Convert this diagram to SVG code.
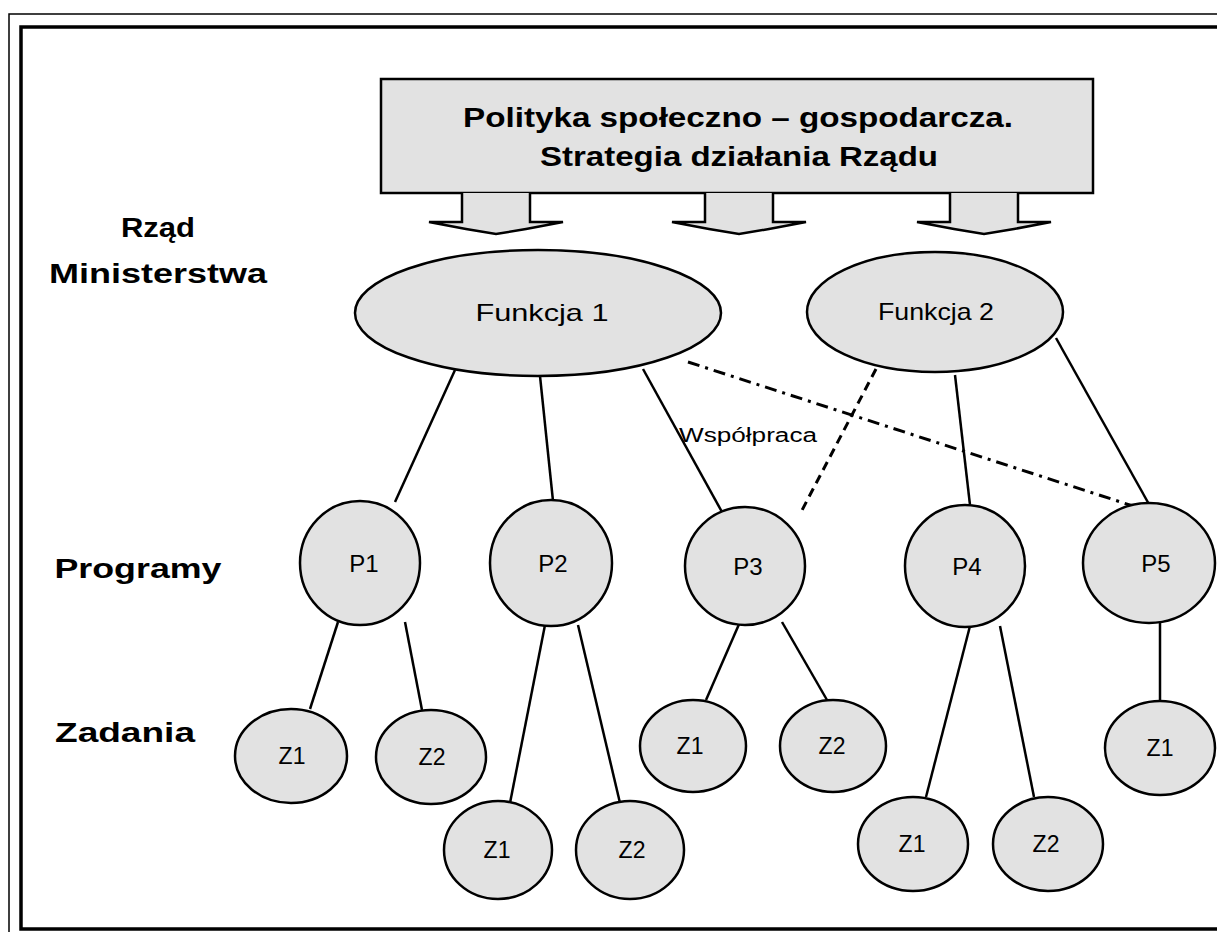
<svg xmlns="http://www.w3.org/2000/svg" width="1217" height="932" viewBox="0 0 1217 932">
  <style>
    .shape { fill: #e2e2e2; stroke: #000; stroke-width: 2.5; }
    .link { fill: none; stroke: #000; stroke-width: 2.5; }
    .dashed { fill: none; stroke: #000; stroke-width: 3; stroke-dasharray: 9 6; }
    .dashdot { fill: none; stroke: #000; stroke-width: 3; stroke-dasharray: 12 6 3 6; }
    .head { font-family: "Liberation Sans", Arial, sans-serif; font-weight: bold; font-size: 27px; fill: #000; text-anchor: middle; }
    .side { font-family: "Liberation Sans", Arial, sans-serif; font-weight: bold; font-size: 27px; fill: #000; text-anchor: middle; }
    .lbl { font-family: "Liberation Sans", Arial, sans-serif; font-size: 24px; fill: #000; text-anchor: middle; }
    .small { font-family: "Liberation Sans", Arial, sans-serif; font-size: 20px; fill: #000; text-anchor: middle; }
    .zl { font-family: "Liberation Sans", Arial, sans-serif; font-size: 23px; fill: #000; text-anchor: middle; }
  </style>
  <defs>
    <!-- block arrow pointing down, drawn about its own centre -->
    <path id="downArrow" d="M-34,0 V29 H-67 L-30,36 L0,41 L30,36 L67,29 H34 V0" />
  </defs>

  <rect x="0" y="0" width="1217" height="932" fill="#fff"/>

  <!-- page frame -->
  <path d="M9,932 V14 H1217" fill="none" stroke="#000" stroke-width="1.5"/>
  <path d="M1217,929 H21 V27 H1217" fill="none" stroke="#000" stroke-width="3.5"/>

  <!-- level labels -->
  <g id="levels">
    <text class="side" x="158" y="237" textLength="74" lengthAdjust="spacingAndGlyphs">Rząd</text>
    <text class="side" x="158" y="283" textLength="218" lengthAdjust="spacingAndGlyphs">Ministerstwa</text>
    <text class="side" x="138" y="578" textLength="167" lengthAdjust="spacingAndGlyphs">Programy</text>
    <text class="side" x="125" y="742" textLength="140" lengthAdjust="spacingAndGlyphs">Zadania</text>
  </g>

  <!-- connectors -->
  <g id="connectors">
    <line class="link" x1="455" y1="370" x2="395" y2="502"/>
    <line class="link" x1="540" y1="376" x2="553" y2="501"/>
    <line class="link" x1="643" y1="369" x2="722" y2="512"/>
    <line class="dashed" x1="876" y1="369" x2="800" y2="514"/>
    <line class="link" x1="955" y1="375" x2="970" y2="505"/>
    <line class="link" x1="1056" y1="338" x2="1150" y2="506"/>
    <line class="dashdot" x1="688" y1="362" x2="1133" y2="506"/>

    <line class="link" x1="338" y1="622" x2="310" y2="709"/>
    <line class="link" x1="405" y1="622" x2="422" y2="710"/>
    <line class="link" x1="545" y1="625" x2="510" y2="803"/>
    <line class="link" x1="578" y1="625" x2="620" y2="803"/>
    <line class="link" x1="740" y1="622" x2="706" y2="700"/>
    <line class="link" x1="782" y1="622" x2="827" y2="700"/>
    <line class="link" x1="970" y1="626" x2="926" y2="797"/>
    <line class="link" x1="1000" y1="626" x2="1034" y2="797"/>
    <line class="link" x1="1160" y1="622" x2="1160" y2="701"/>

    <text class="small" x="748" y="442" textLength="138" lengthAdjust="spacingAndGlyphs">Współpraca</text>
  </g>

  <!-- strategy box with its three arrows -->
  <g id="strategy">
    <rect class="shape" x="381" y="79" width="712" height="114"/>
    <text class="head" x="738" y="127" textLength="550" lengthAdjust="spacingAndGlyphs">Polityka społeczno – gospodarcza.</text>
    <text class="head" x="739" y="166" textLength="398" lengthAdjust="spacingAndGlyphs">Strategia działania Rządu</text>
    <use href="#downArrow" x="496" y="193" class="shape"/>
    <use href="#downArrow" x="739" y="193" class="shape"/>
    <use href="#downArrow" x="984" y="193" class="shape"/>
  </g>

  <g id="funkcja1">
    <ellipse class="shape" cx="538" cy="313" rx="183" ry="63"/>
    <text class="lbl" x="542" y="321" textLength="133" lengthAdjust="spacingAndGlyphs">Funkcja 1</text>
  </g>
  <g id="funkcja2">
    <ellipse class="shape" cx="935" cy="312" rx="128" ry="60"/>
    <text class="lbl" x="936" y="320" textLength="116" lengthAdjust="spacingAndGlyphs">Funkcja 2</text>
  </g>

  <g id="p1">
    <ellipse class="shape" cx="360" cy="563" rx="60" ry="62"/>
    <text class="lbl" x="364" y="572">P1</text>
  </g>
  <g id="p2">
    <ellipse class="shape" cx="551" cy="563" rx="61" ry="63"/>
    <text class="lbl" x="553" y="572">P2</text>
  </g>
  <g id="p3">
    <ellipse class="shape" cx="745" cy="566" rx="60" ry="59"/>
    <text class="lbl" x="748" y="575">P3</text>
  </g>
  <g id="p4">
    <ellipse class="shape" cx="965" cy="566" rx="60" ry="61"/>
    <text class="lbl" x="967" y="575">P4</text>
  </g>
  <g id="p5">
    <ellipse class="shape" cx="1149" cy="563" rx="66" ry="60"/>
    <text class="lbl" x="1156" y="572">P5</text>
  </g>

  <g id="p1-z1">
    <ellipse class="shape" cx="291" cy="756" rx="56" ry="47"/>
    <text class="zl" x="292" y="764">Z1</text>
  </g>
  <g id="p1-z2">
    <ellipse class="shape" cx="431" cy="757" rx="55" ry="47"/>
    <text class="zl" x="432" y="765">Z2</text>
  </g>
  <g id="p2-z1">
    <ellipse class="shape" cx="498" cy="850" rx="54" ry="49"/>
    <text class="zl" x="497" y="858">Z1</text>
  </g>
  <g id="p2-z2">
    <ellipse class="shape" cx="630" cy="850" rx="54" ry="49"/>
    <text class="zl" x="632" y="858">Z2</text>
  </g>
  <g id="p3-z1">
    <ellipse class="shape" cx="693" cy="746" rx="53" ry="46"/>
    <text class="zl" x="690" y="754">Z1</text>
  </g>
  <g id="p3-z2">
    <ellipse class="shape" cx="833" cy="746" rx="53" ry="46"/>
    <text class="zl" x="832" y="754">Z2</text>
  </g>
  <g id="p4-z1">
    <ellipse class="shape" cx="913" cy="844" rx="55" ry="47"/>
    <text class="zl" x="912" y="852">Z1</text>
  </g>
  <g id="p4-z2">
    <ellipse class="shape" cx="1048" cy="844" rx="55" ry="47"/>
    <text class="zl" x="1046" y="852">Z2</text>
  </g>
  <g id="p5-z1">
    <ellipse class="shape" cx="1160" cy="748" rx="55" ry="47"/>
    <text class="zl" x="1160" y="756">Z1</text>
  </g>
</svg>
